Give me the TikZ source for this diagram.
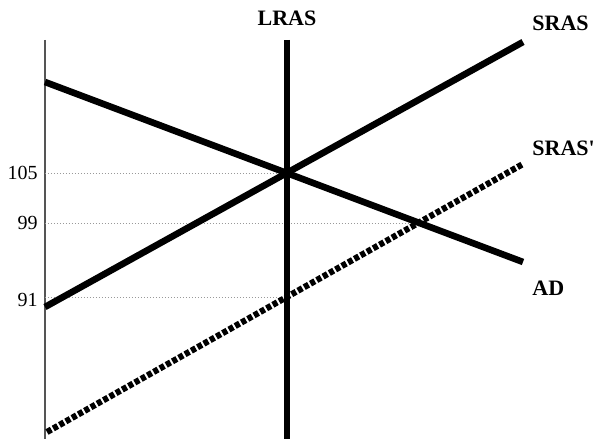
\documentclass[tikz,border=0pt]{standalone}
\usepackage{fontspec}
\setmainfont{Liberation Serif}
\usepackage{xcolor}
\definecolor{axis-grey}{HTML}{555555}
\definecolor{guide-grey}{HTML}{999999}

\tikzset{
  curve/.style={line width=3.3pt},
  shifted/.style={line width=3.1pt, dash pattern=on 2.5pt off 1.1pt},
  guide/.style={guide-grey, line width=0.45pt, dash pattern=on 0.6pt off 0.9pt},
  curvelabel/.style={font=\fontsize{11}{13}\selectfont\bfseries, inner sep=0pt},
  pricelabel/.style={font=\fontsize{10}{12}\selectfont, inner sep=0pt, anchor=east}
}

\begin{document}
\begin{tikzpicture}[x=0.5pt, y=-0.5pt]
  \useasboundingbox (0,0) rectangle (602,439);
  % axis
  \coordinate (axtop) at (45,40);
  \coordinate (axbot) at (45,439);
  \draw[axis-grey, line width=0.75pt] (axtop) -- (axbot);
  % equilibrium points
  \coordinate (E0) at (287,173);
  \coordinate (E1) at (419,223);
  \coordinate (E2) at (287,297);
  \node[pricelabel] (p105) at (38,173) {105};
  \node[pricelabel] (p99) at (38,223) {99};
  \node[pricelabel] (p91) at (38,300) {91};
  \draw[guide] (axtop |- E0) -- (E0);
  \draw[guide] (axtop |- E1) -- (E1);
  \draw[guide] (axtop |- E2) -- (E2);
  % LRAS
  \coordinate (lrastop) at (287,40);
  \coordinate (lrasbot) at (287,439);
  \draw[curve] (lrastop) -- (lrasbot);
  \node[curvelabel] (LRAS) at (287,18) {LRAS};
  % SRAS
  \coordinate (srasA) at (45,307);
  \coordinate (srasB) at (523,42);
  \draw[curve] (srasA) -- (srasB);
  \node[curvelabel, anchor=west] (SRAS) at (532,23) {SRAS};
  % AD
  \coordinate (adA) at (45,82);
  \coordinate (adB) at (523,262);
  \draw[curve] (adA) -- (adB);
  \node[curvelabel, anchor=west] (AD) at (532,288) {AD};
  % SRAS'
  \coordinate (srasA2) at (47,432);
  \coordinate (srasB2) at (523,164);
  \draw[shifted] (srasA2) -- (srasB2);
  \node[curvelabel, anchor=west] (SRAS2) at (532,148) {SRAS\textquotesingle};
\end{tikzpicture}
\end{document}
